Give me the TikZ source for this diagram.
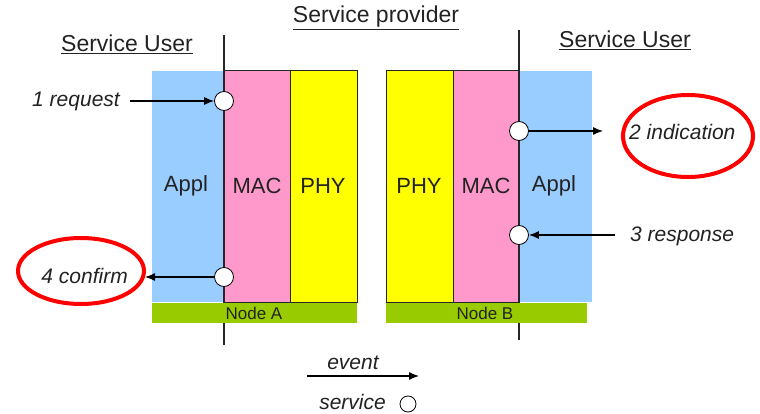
\documentclass[tikz,border=0pt]{standalone}
\usepackage{fontspec}
\setmainfont{Liberation Sans}
\usetikzlibrary{arrows.meta}
\definecolor{applblue}{HTML}{99CCFF}
\definecolor{macpink}{HTML}{FF99CC}
\definecolor{phyyellow}{HTML}{FFFF00}
\definecolor{nodegreen}{HTML}{99CC00}
\definecolor{txtgray}{HTML}{222222}
\tikzset{
  layer/.style={draw=black!85,line width=1pt},
  sap/.style={circle,draw=black,fill=white,line width=.8pt,minimum size=19pt,inner sep=0pt},
  prim/.style={font=\fontsize{21}{24}\selectfont\itshape,text=txtgray,inner sep=0pt},
  lay/.style={font=\fontsize{22}{25}\selectfont,text=txtgray},
  head/.style={font=\fontsize{23}{26}\selectfont,text=txtgray},
  evt/.style={line width=1.2pt,-{Latex[length=10pt,width=8pt]}},
  redmark/.style={draw=red,line width=4pt}
}
\begin{document}
\begin{tikzpicture}[x=1pt,y=-1pt]
\useasboundingbox (0,0) rectangle (760,414);
% node A
\path[fill=applblue] (152,71) rectangle (224,302);
\path[fill=macpink,layer] (224,71) rectangle (290,302);
\path[fill=phyyellow,layer] (290,71) rectangle (357,302);
\draw[line width=2pt,black!85] (224,35) -- (224,345);
\path[fill=nodegreen] (152,303) rectangle (357,323);
\node[lay] (applA) at (186,186) {Appl};
\node[lay] (macA) at (257,186) {MAC};
\node[lay] (phyA) at (323,186) {PHY};
\node[font=\fontsize{17}{20}\selectfont,text=txtgray] (nodeA) at (254,313) {Node A};
% node B
\path[fill=phyyellow,layer] (386,71) rectangle (453,302);
\path[fill=macpink,layer] (453,71) rectangle (519,302);
\path[fill=applblue] (519,71) rectangle (592,302);
\draw[line width=2pt,black!85] (519,30) -- (519,340);
\path[fill=nodegreen] (386,303) rectangle (587,323);
\node[lay] (phyB) at (419,186) {PHY};
\node[lay] (macB) at (486,186) {MAC};
\node[lay] (applB) at (554,186) {Appl};
\node[font=\fontsize{17}{20}\selectfont,text=txtgray] (nodeB) at (485,313) {Node B};
% headings
\node[head] (prov) at (376,18) {\underline{Service provider}};
\node[head] (userA) at (127,44) {\underline{Service User}};
\node[head] (userB) at (625,40) {\underline{Service User}};
% service access points
\node[sap] (req) at (224,101) {};
\node[sap] (conf) at (224,277) {};
\node[sap] (ind) at (519,131) {};
\node[sap] (resp) at (519,235) {};
% primitives
\node[prim,anchor=east] (reqtxt) at (120,101) {1 request};
\node[prim,anchor=east] (conftxt) at (128,276) {4 confirm};
\node[prim,anchor=west] (indtxt) at (629,132) {2 indication};
\node[prim,anchor=west] (resptxt) at (630,236) {3 response};
\coordinate (reqstart) at (130,101);
\coordinate (confend) at (145,277);
\coordinate (indend) at (603,131);
\coordinate (respstart) at (615,235);
\draw[evt] (reqstart) -- (req);
\draw[evt] (conf) -- (confend);
\draw[evt] (ind) -- (indend);
\draw[evt] (respstart) -- (resp);
% highlights
\draw[redmark] (81,271) ellipse [x radius=63,y radius=33];
\draw[redmark] (688,136) ellipse [x radius=65,y radius=41];
% legend
\node[prim] (evttxt) at (353,363) {event};
\coordinate (evtstart) at (307,376);
\coordinate (evtend) at (419,376);
\draw[evt] (evtstart) -- (evtend);
\node[prim,anchor=east] (svctxt) at (386,402) {service};
\node[sap,minimum size=16pt] (svc) at (408,404) {};
\end{tikzpicture}
\end{document}
